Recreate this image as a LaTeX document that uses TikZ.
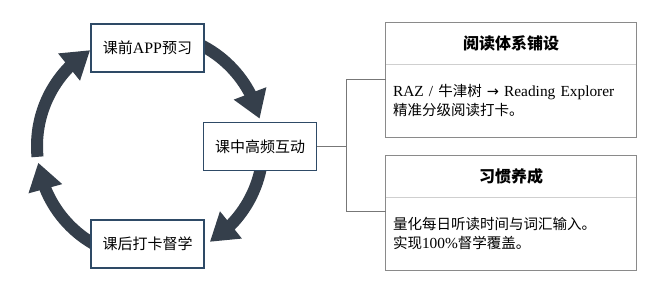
\documentclass[tikz,border=0pt]{standalone}
\usepackage{fontspec}
\setmainfont[Scale=1.06]{Liberation Serif}
\newfontfamily\cjk{Noto Sans CJK SC}
\newfontfamily\symb{DejaVu Sans}
\usetikzlibrary{arrows.meta,bending}
\definecolor{ringdark}{HTML}{353F4B}
\definecolor{stageblue}{HTML}{2E4A66}
\definecolor{panelgray}{HTML}{8A8A8A}
\definecolor{rulegray}{HTML}{CFCFCF}
\definecolor{linkgray}{HTML}{777777}

\begin{document}
\begin{tikzpicture}[
    x=1pt, y=1pt,
    stage/.style={rectangle, draw=stageblue, line width=1.6pt, fill=white,
                  minimum width=113pt, minimum height=48pt, inner sep=0pt,
                  font=\fontsize{15}{18}\selectfont},
    ring/.style={line width=12pt, draw=ringdark,
                 -{Triangle[width=33pt,length=27pt]}},
    head/.style={rectangle, minimum width=250pt, minimum height=41pt, inner sep=0pt,
                 font=\fontsize{16}{19}\selectfont\bfseries},
    body/.style={rectangle, minimum width=250pt, minimum height=73pt, inner sep=0pt,
                 text width=236pt, align=left, font=\fontsize{14.5}{19}\selectfont},
    panel/.style={draw=panelgray, line width=0.9pt},
    divider/.style={draw=rulegray, line width=0.9pt},
    link/.style={draw=linkgray, line width=0.8pt}
]

%% Rahmen
\fill[white] (0,0) rectangle (650,287);
\useasboundingbox (0,0) rectangle (650,287);

%% Kreislauf
\coordinate (ctr) at (150,141);
\draw[ring] ([shift={(64:113pt)}]ctr) arc[start angle=64, end angle=14, radius=113pt];
\draw[ring] ([shift={(-10:113pt)}]ctr) arc[start angle=-10, end angle=-58, radius=113pt];
\draw[ring] ([shift={(240:113pt)}]ctr) arc[start angle=240, end angle=188.5, radius=113pt];
\draw[ring] ([shift={(185.5:113pt)}]ctr) arc[start angle=185.5, end angle=122, radius=113pt];

%% Phasen
\node[stage] (pre)  at (147.5,239)  {{\cjk 课前}APP{\cjk 预习}};
\node[stage] (mid)  at (260,140.5)  {\cjk 课中高频互动};
\node[stage] (post) at (147.5,43)   {\cjk 课后打卡督学};

%% Panel oben
\node[head] (headA) at (511,243.5) {\cjk 阅读体系铺设};
\node[body, anchor=north] (bodyA) at (headA.south)
      {RAZ / {\cjk 牛津树} {\symb →} Reading Explorer\\
       {\cjk 精准分级阅读打卡。}};
\draw[panel] (headA.north west) rectangle (bodyA.south east);
\draw[divider] ([xshift=0.5pt]headA.south west) -- ([xshift=-0.5pt]headA.south east);

%% Panel unten
\node[head] (headB) at (511,110.5) {\cjk 习惯养成};
\node[body, anchor=north] (bodyB) at (headB.south)
      {{\cjk 量化每日听读时间与词汇输入。}\\
       {\cjk 实现}100\%{\cjk 督学覆盖。}};
\draw[panel] (headB.north west) rectangle (bodyB.south east);
\draw[divider] ([xshift=0.5pt]headB.south west) -- ([xshift=-0.5pt]headB.south east);

%% Verbindung
\coordinate (jA) at (346,208);
\coordinate (jB) at (346,76);
\draw[link] (mid.east) -- (mid.east -| jA);
\draw[link] (jA -| bodyA.west) -- (jA) -- (jB) -- (jB -| bodyB.west);

\end{tikzpicture}
\end{document}
